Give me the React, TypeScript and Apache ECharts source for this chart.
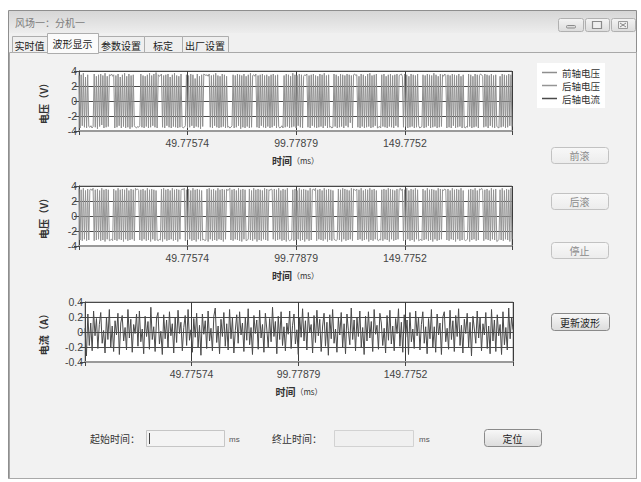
import React, { useEffect, useRef } from "react";
import * as echarts from "echarts";

// ---------- data ----------
const X_TICK_LABELS = [49.77574, 99.77879, 149.7752];
const T_END_VOLT = 199;
const T_END_CURR = 200;

const frontVoltage = [
  3.4, -3.6, 3.5, -3.3, 3.7, -3.5, 3.2, -3.6, 3.5, -3.4, -3.5, -3.3, -3.6, -3.4, 3.6, -3.5, 3.3, -3.7, 3.5, -3.4,
  3.6, -3.2, 3.4, -3.6, 3.7, -3.5, 3.3, -3.4, 3.5, 3.4, 3.6, 3.3, 3.5, -3.6, 3.4, -3.5, 3.6, -3.3, 3.2, -3.6,
  3.5, -3.4, 3.7, -3.6, 3.3, -3.5, 3.6, -3.7, 3.4, -3.5, 3.5, -3.3, -3.5, -3.6, -3.4, -3.5, -3.3, 3.6, -3.5, 3.4,
  -3.6, 3.3, -3.4, 3.5, -3.6, 3.7, -3.5, 3.4, -3.3, 3.6, -3.5, 3.8, -3.6, 3.5, 3.3, 3.4, 3.6, -3.5, 3.4, -3.6,
  3.5, -3.3, 3.6, -3.5, 3.2, -3.6, 3.5, -3.4, 3.7, -3.5, 3.4, -3.6, 3.3, -3.5, 3.6, -3.4, -3.6, -3.5, -3.3, 3.5,
  -3.6, 3.4, -3.5, 3.6, -3.3, 3.5, -3.6, 3.0, -3.4, 3.6, -3.5, 3.3, -3.7, 3.5, -3.4, 3.6, 3.5, 3.4, 3.5, 3.3,
  3.6, -3.5, 3.4, -3.6, 3.5, -3.3, 3.7, -3.5, 3.4, -3.6, 3.3, -3.5, 3.6, -3.4, 3.5, -3.6, 3.3, -3.5, -3.4, -3.6,
  -3.5, -3.3, 3.5, -3.6, 3.4, -3.5, 3.6, -3.3, 3.5, -3.7, 3.4, -3.5, 3.6, -3.6, 3.3, -3.4, 3.5, -3.6, 3.7, -3.5,
  3.4, 3.5, 3.3, 3.6, -3.5, 3.4, -3.6, 3.5, -3.3, 3.6, -3.5, 3.4, -3.6, 3.5, -3.4, 3.3, -3.6, 3.5, -3.5, 3.6,
  -3.3, 3.4, -3.6, 3.5, -3.4, -3.6, -3.5, -3.3, -3.6, 3.4, -3.5, 3.6, -3.4, 3.5, -3.6, 3.3, -3.5, 3.7, -3.4, 3.5,
  -3.6, 3.4, -3.3, 3.6, -3.5, 3.5, -3.6, 3.3, 3.5, 3.4, 3.6, -3.5, 3.4, -3.6, 3.5, -3.3, 3.6, -3.5, 3.4, -3.6,
  3.3, -3.5, 3.6, -3.4, 3.5, -3.6, 3.7, -3.3, 3.4, -3.6, 3.5, -3.5, -3.4, -3.6, -3.5, 3.6, -3.4, 3.5, -3.6, 3.3,
  -3.5, 3.6, -3.4, 3.5, -3.6, 3.4, -3.3, 3.6, -3.5, 3.5, -2.9, 3.4, -3.6, 3.5, 3.6, 3.4, 3.5, -3.5, 3.3, -3.6,
  3.6, -3.4, 3.5, -3.6, 3.3, -3.5, 3.6, -3.4, 3.7, -3.6, 3.4, -3.5, 3.5, -3.3, 3.6, -3.6, -3.5, -3.4, -3.6, 3.5,
  -3.4, 3.6, -3.5, 3.3, -3.6, 3.5, -3.4, 3.6, -3.5, 3.4, -3.6, 3.5, -3.3, 3.6, -3.5, 3.4, 3.5, 3.6, 3.3, -3.5,
  3.6, -3.4, 3.5, -3.6, 3.3, -3.5, 3.6, -3.4, 3.5, -3.6, 3.4, -3.5, 3.6, -3.3, -3.6, -3.5, -3.4, 3.5, -3.6, 3.4,
  -3.5, 3.6, -3.3, 3.5, -3.6, 3.4, -3.5, 3.7, -3.4, 3.5, -3.6, 3.3, -3.5, 3.6, -3.4, 3.5, 3.3, 3.6, 3.4, -3.6,
  3.5, -3.5, 3.4, -3.6, 3.6, -3.3, 3.5, -3.6, 3.4, -3.5, 3.6, -3.4, 3.3, -3.6, 3.5, -3.5, -3.6, -3.4, -3.5, 3.6,
  -3.4, 3.5, -3.6, 3.3, -3.5, 3.6, -3.4, 3.5, -3.6, 3.4, 3.6, 3.5, 3.3, -3.5, 3.6, -3.4, 3.5, -3.6, 3.4, -3.3,
  3.6, -3.5, 3.4, -3.6, 3.5, -3.4, -3.5, -3.6, 3.3, -3.5, 3.6, -3.4, 3.5, -3.6, 3.4, -3.5, 3.6, -3.3, 3.5, -3.4,
];

const rearVoltage = [
  3.6, -3.2, 3.5, -3.3, 3.7, -3.1, 3.4, -3.3, 3.6, -3.2, 3.5, 3.6, 3.4, 3.7, -3.3, 3.5, -3.2, 3.6, -3.1, 3.4,
  -3.3, 3.7, -3.2, 3.5, -3.4, 3.6, -3.1, 3.5, -3.3, -3.2, -3.1, -3.3, 3.6, -3.2, 3.4, -3.3, 3.7, -3.1, 3.5, -3.2,
  3.6, -3.4, 3.5, -3.1, 3.7, -3.3, 3.4, -3.2, 3.6, -3.1, 3.5, -3.3, 3.7, 3.5, 3.6, 3.4, -3.2, 3.5, -3.3, 3.6,
  -3.1, 3.4, -3.3, 3.7, -3.2, 3.5, -3.4, 3.6, -3.1, 3.5, -3.3, 3.4, -3.2, -3.3, -3.1, -3.2, 3.6, -3.4, 3.7, -3.1,
  3.5, -3.3, 3.6, -3.2, 3.4, -3.1, 3.7, -3.3, 3.5, -3.2, 3.6, -3.4, 3.5, -3.1, 3.4, 3.6, 3.5, 3.7, -3.3, 3.5,
  -3.2, 3.6, -3.1, 3.4, -3.3, 3.7, -3.2, 3.5, -3.4, 3.6, -3.1, 3.5, -3.3, 3.4, -3.2, -3.1, -3.3, -3.2, 3.6, -3.4,
  3.7, -3.1, 3.5, -3.3, 3.6, -3.2, 3.4, -3.3, 3.7, -3.1, 3.5, -3.2, 3.6, -3.4, 3.5, -3.1, 3.6, 3.4, 3.5, 3.7,
  -3.2, 3.5, -3.3, 3.6, -3.1, 3.4, -3.2, 3.7, -3.3, 3.5, -3.4, 3.6, -3.1, 3.5, -3.3, -3.2, -3.1, 3.6, -3.2, 3.4,
  -3.3, 3.7, -3.1, 3.5, -3.4, 3.6, -3.2, 3.5, -3.3, 3.4, -3.1, 3.7, -3.2, 3.6, -3.3, 3.5, 3.4, 3.6, 3.5, -3.1,
  3.6, -3.3, 3.5, -3.2, 3.7, -3.1, 3.4, -3.3, 3.6, -3.2, 3.5, -3.4, 3.7, -3.1, -3.3, -3.2, -3.1, 3.5, -3.3, 3.6,
  -3.2, 3.4, -3.1, 3.7, -3.3, 3.5, -3.2, 3.6, -3.4, 3.5, -3.1, 3.4, -3.3, 3.7, -3.2, 3.5, 3.6, 3.4, 3.7, -3.3,
  3.5, -3.1, 3.6, -3.2, 3.4, -3.3, 3.7, -3.1, 3.5, -3.4, 3.6, -3.2, 3.5, -3.3, 3.4, -3.1, -3.2, -3.3, -3.1, 3.6,
  -3.2, 3.5, -3.4, 3.7, -3.1, 3.6, -3.3, 3.5, -3.2, 3.4, -3.1, 3.7, -3.3, 3.6, 3.5, 3.4, 3.6, -3.2, 3.5, -3.1,
  3.7, -3.3, 3.4, -3.2, 3.6, -3.1, 3.5, -3.4, 3.7, -3.2, 3.5, -3.3, 3.6, -3.1, 3.4, -3.2, -3.3, -3.1, -3.2, 3.5,
  -3.3, 3.6, -3.1, 3.5, -3.2, 3.7, -3.4, 3.6, -3.1, 3.5, -3.3, 3.4, -3.2, 3.6, -3.1, 3.5, 3.7, 3.4, 3.6, -3.3,
  3.5, -3.2, 3.7, -3.1, 3.4, -3.3, 3.6, -3.2, 3.5, -3.4, 3.7, -3.1, 3.5, -3.3, -3.2, -3.1, -3.3, 3.6, -3.2, 3.4,
  -3.1, 3.7, -3.3, 3.5, -3.2, 3.6, -3.4, 3.5, -3.1, 3.4, -3.3, 3.7, -3.2, 3.6, -3.1, 3.5, 3.4, 3.6, 3.5, -3.2,
  3.6, -3.3, 3.4, -3.1, 3.7, -3.2, 3.5, -3.4, 3.6, -3.1, 3.5, -3.3, 3.7, -3.2, 3.4, -3.1, -3.3, -3.2, -3.1, 3.5,
  -3.4, 3.6, -3.2, 3.5, -3.1, 3.7, -3.3, 3.4, -3.2, 3.6, 3.5, 3.7, 3.4, -3.3, 3.5, -3.1, 3.6, -3.2, 3.4, -3.3,
  3.7, -3.1, 3.5, -3.2, 3.6, -3.4, -3.3, -3.1, 3.5, -3.2, 3.7, -3.3, 3.4, -3.1, 3.6, -3.2, 3.5, -3.4, 3.7, -3.1,
];

const rearCurrent = [
  0.05, -0.32, 0.24, -0.18, 0.12, -0.25, 0.28, -0.05, 0.18, -0.22, 0.1, 0.26, -0.15, 0.02, -0.28, 0.2, -0.1, 0.3, -0.2, 0.08,
  -0.26, 0.15, -0.04, 0.25, -0.3, 0.12, 0.22, -0.12, 0.06, -0.24, 0.3, -0.08, 0.17, -0.27, 0.1, -0.02, 0.24, -0.19, 0.28, -0.13,
  0.04, -0.29, 0.21, -0.06, 0.14, -0.23, 0.33, -0.1, 0.07, -0.26, 0.19, 0.26, -0.16, 0.01, -0.3, 0.23, -0.09, 0.16, -0.21, 0.27,
  -0.05, 0.11, -0.28, 0.2, -0.14, 0.29, -0.02, 0.13, -0.25, 0.06, 0.22, -0.18, 0.3, -0.11, 0.03, -0.27, 0.18, -0.07, 0.25, -0.2,
  0.09, -0.31, 0.24, -0.03, 0.15, -0.22, 0.28, -0.12, 0.05, -0.25, 0.21, 0.32, -0.14, 0.08, -0.29, 0.17, -0.06, 0.26, -0.19, 0.11,
  -0.24, 0.3, -0.09, 0.19, -0.28, 0.02, 0.23, -0.15, 0.27, -0.04, 0.12, -0.26, 0.2, -0.11, 0.31, -0.17, 0.06, -0.3, 0.22, -0.02,
  0.16, -0.23, 0.29, -0.08, 0.1, -0.27, 0.25, 0.04, -0.2, 0.18, -0.13, 0.33, -0.06, 0.14, -0.29, 0.21, -0.1, 0.27, -0.18, 0.07,
  -0.25, 0.12, -0.03, 0.28, -0.22, 0.09, 0.24, -0.16, 0.03, -0.3, 0.2, -0.07, 0.31, -0.12, 0.15, -0.24, 0.26, -0.01, 0.1, -0.28,
  0.22, -0.14, 0.29, -0.05, 0.17, -0.26, 0.08, 0.25, -0.19, 0.13, -0.31, 0.23, -0.09, 0.3, -0.15, 0.04, -0.27, 0.19, -0.04, 0.26,
  -0.21, 0.11, -0.29, 0.24, 0.02, -0.17, 0.32, -0.1, 0.16, -0.25, 0.2, -0.06, 0.28, -0.2, 0.06, -0.3, 0.21, -0.12, 0.27, -0.08,
  0.14, -0.26, 0.3, -0.03, 0.09, -0.23, 0.25, 0.12, -0.18, 0.05, -0.28, 0.22, -0.11, 0.29, -0.16, 0.08, -0.25, 0.18, -0.02, 0.31,
  -0.19, 0.13, -0.27, 0.23, -0.07, 0.16, -0.3, 0.26, -0.13, 0.04, -0.22, 0.28, -0.05, 0.2, -0.24, 0.1, 0.27, -0.15, 0.07, -0.29,
  0.18, -0.09, 0.3, -0.21, 0.07, -0.27, 0.24, -0.04, 0.12, -0.3, 0.2, 0.27, -0.13, 0.05, -0.23, 0.29, -0.1, 0.15, -0.26, 0.22,
  -0.06, 0.31, -0.18, 0.09, -0.28, 0.17, -0.02, 0.25, -0.2, 0.13, -0.32, 0.21, 0.04, -0.15, 0.28, -0.08, 0.19, -0.25, 0.11, -0.04,
  0.26, -0.22, 0.08, -0.29, 0.3, -0.12, 0.16, -0.26, 0.23, -0.05, 0.1, -0.3, 0.27, -0.17, 0.06, -0.24, 0.32, -0.09, 0.2, 0.03,
];

const SERIES_NAMES = ["前轴电压", "后轴电压", "后轴电流"];

// ---------- helpers ----------
const CJK = "'Noto Sans CJK SC', 'Noto Sans', sans-serif";
const NUM = "'Liberation Sans', Arial, sans-serif";

function toPairs(values: number[], tEnd: number) {
  const step = tEnd / (values.length - 1);
  return values.map((v, i) => [i * step, v]);
}

function text(x: number, y: number, s: string, opts: any = {}) {
  return {
    type: "text",
    x,
    y,
    z: 5,
    silent: true,
    style: {
      text: s,
      fill: opts.fill || "#333",
      fontSize: opts.fontSize || 10,
      fontFamily: opts.fontFamily || CJK,
      fontWeight: opts.fontWeight || "normal",
      align: opts.align || "left",
      verticalAlign: "middle",
    },
  };
}

function button(x: number, y: number, w: number, h: number, label: string, strong: boolean) {
  return [
    {
      type: "rect",
      z: 2,
      silent: true,
      shape: { x: x + 0.5, y: y + 0.5, width: w, height: h, r: 3 },
      style: {
        fill: {
          type: "linear", x: 0, y: 0, x2: 0, y2: 1,
          colorStops: [
            { offset: 0, color: "#f8f8f8" },
            { offset: 1, color: strong ? "#dcdcdc" : "#ececec" },
          ],
        },
        stroke: strong ? "#8a8a8a" : "#c2c2c2",
        lineWidth: 1,
      },
    },
    text(x + w / 2, y + h / 2 + 0.5, label, {
      align: "center",
      fill: strong ? "#222" : "#8a8a8a",
      fontSize: 10,
    }),
  ];
}

function tab(x: number, w: number, label: string, selected: boolean) {
  const y = selected ? 33 : 36;
  return [
    {
      type: "rect",
      z: selected ? -6 : -7,
      silent: true,
      shape: { x: x + 0.5, y: y + 0.5, width: w, height: 52 - y + (selected ? 1 : 0) },
      style: { fill: selected ? "#fbfbfb" : "#efefef", stroke: "#adadad", lineWidth: 1 },
    },
    text(x + w / 2, selected ? 43 : 45, label, { align: "center", fill: "#222", fontSize: 10 }),
  ];
}

function xAxisCfg(gridIndex: number, max: number) {
  return {
    type: "value",
    gridIndex,
    min: 0,
    max,
    name: "{a|时间}{b|（ms）}",
    nameLocation: "middle",
    nameGap: 24,
    nameTextStyle: {
      rich: {
        a: { fontFamily: CJK, fontSize: 10, fontWeight: "bold", color: "#333" },
        b: { fontFamily: CJK, fontSize: 8, color: "#333" },
      },
    },
    axisLine: { show: true, onZero: false, lineStyle: { color: "#9a9a9a", width: 2 } },
    axisTick: {
      show: true,
      length: 4,
      customValues: [0, ...X_TICK_LABELS, max],
      lineStyle: { color: "#444" },
    },
    axisLabel: {
      customValues: X_TICK_LABELS,
      formatter: (v: number) => String(v),
      color: "#444",
      fontSize: 10.5,
      fontFamily: NUM,
      margin: 6,
    },
    splitLine: { show: true, lineStyle: { color: "#3c3c3c", width: 1 } },
  };
}

function yAxisCfg(gridIndex: number, lim: number, step: number, name: string, gap: number) {
  return {
    type: "value",
    gridIndex,
    min: -lim,
    max: lim,
    interval: step,
    name,
    nameLocation: "middle",
    nameRotate: 90,
    nameGap: gap,
    nameTextStyle: { fontFamily: CJK, fontSize: 10, fontWeight: "bold", color: "#333" },
    axisLine: { show: true, onZero: false, lineStyle: { color: "#444", width: 1 } },
    axisTick: { show: true, length: 5, lineStyle: { color: "#444" } },
    axisLabel: {
      color: "#444",
      fontSize: 10.5,
      fontFamily: NUM,
      margin: 2,
      formatter: (v: number) => String(Math.round(v * 10) / 10),
    },
    splitLine: { show: true, lineStyle: { color: "#4a4a4a", width: 1 } },
  };
}

export default function App() {
  const ref = useRef<HTMLDivElement>(null);

  useEffect(() => {
    if (!ref.current) return;
    const chart = echarts.init(ref.current, undefined, { renderer: "svg" });

    const graphics: any[] = [
      // window frame
      {
        type: "rect", z: -10, silent: true,
        shape: { x: 8.5, y: 10.5, width: 628, height: 468 },
        style: { fill: "#f0f0f0", stroke: "#8e8e8e", lineWidth: 1 },
      },
      {
        type: "rect", z: -9, silent: true,
        shape: { x: 9, y: 11, width: 627, height: 22 },
        style: {
          fill: {
            type: "linear", x: 0, y: 0, x2: 0, y2: 1,
            colorStops: [
              { offset: 0, color: "#d6d6d6" },
              { offset: 1, color: "#ededed" },
            ],
          },
        },
      },
      text(15, 22, "风场一：分机一", { fill: "#7c7c7c", fontSize: 10 }),
      // window buttons
      ...[
        [558, 25],
        [585, 24],
        [611, 24],
      ].map(([bx, bw]) => ({
        type: "rect", z: 2, silent: true,
        shape: { x: bx + 0.5, y: 18.5, width: bw, height: 13, r: 2 },
        style: {
          fill: {
            type: "linear", x: 0, y: 0, x2: 0, y2: 1,
            colorStops: [
              { offset: 0, color: "#f4f4f4" },
              { offset: 1, color: "#dcdcdc" },
            ],
          },
          stroke: "#b0b0b0",
        },
      })),
      {
        type: "rect", z: 3, silent: true,
        shape: { x: 566.5, y: 25.5, width: 9, height: 2.5, r: 1 },
        style: { fill: "#ddd", stroke: "#8a8a8a" },
      },
      {
        type: "rect", z: 3, silent: true,
        shape: { x: 592.5, y: 21.5, width: 9, height: 7 },
        style: { fill: "#eee", stroke: "#8a8a8a", lineWidth: 1.2 },
      },
      {
        type: "rect", z: 3, silent: true,
        shape: { x: 618.5, y: 21.5, width: 9, height: 7 },
        style: { fill: "#eee", stroke: "#9a9a9a" },
      },
      {
        type: "polyline", z: 4, silent: true,
        shape: { points: [[620, 23], [626, 27]] },
        style: { stroke: "#888", lineWidth: 1 },
      },
      {
        type: "polyline", z: 4, silent: true,
        shape: { points: [[626, 23], [620, 27]] },
        style: { stroke: "#888", lineWidth: 1 },
      },
      // tab page panel
      {
        type: "rect", z: -8, silent: true,
        shape: { x: 9.5, y: 52.5, width: 627, height: 426 },
        style: { fill: "#f2f2f2", stroke: "#a9a9a9", lineWidth: 1 },
      },
      ...tab(12, 35, "实时值", false),
      ...tab(98, 46, "参数设置", false),
      ...tab(144, 38, "标定", false),
      ...tab(182, 46, "出厂设置", false),
      ...tab(47, 51, "波形显示", true),
      // right side buttons
      ...button(551, 147, 57, 16, "前滚", false),
      ...button(551, 193, 57, 16, "后滚", false),
      ...button(551, 242, 57, 16, "停止", false),
      ...button(551, 313, 58, 17, "更新波形", true),
      // bottom controls
      text(90, 438, "起始时间：", { fontSize: 10, fill: "#333" }),
      {
        type: "rect", z: 2, silent: true,
        shape: { x: 146.5, y: 430.5, width: 78, height: 16 },
        style: { fill: "#f4f4f4", stroke: "#c6c6c6" },
      },
      {
        type: "polyline", z: 3, silent: true,
        shape: { points: [[149.5, 433], [149.5, 444]] },
        style: { stroke: "#444", lineWidth: 1 },
      },
      text(229, 439, "ms", { fontSize: 8, fill: "#555", fontFamily: NUM }),
      text(272, 438, "终止时间：", { fontSize: 10, fill: "#333" }),
      {
        type: "rect", z: 2, silent: true,
        shape: { x: 334.5, y: 430.5, width: 79, height: 16 },
        style: { fill: "#f0f0f0", stroke: "#d2d2d2" },
      },
      text(419, 439, "ms", { fontSize: 8, fill: "#555", fontFamily: NUM }),
      ...button(484, 429, 57, 17, "定位", true),
    ];

    const option: any = {
      animation: false,
      backgroundColor: "transparent",
      textStyle: { fontFamily: CJK },
      graphic: { elements: graphics },
      legend: {
        data: SERIES_NAMES,
        orient: "vertical",
        left: 537,
        top: 63,
        z: 10,
        backgroundColor: "#ffffff",
        padding: [3, 5, 3, 5],
        itemGap: 0,
        itemWidth: 15,
        itemHeight: 1.5,
        icon: "rect",
        selectedMode: false,
        textStyle: { fontFamily: CJK, fontSize: 9.5, color: "#333", lineHeight: 13 },
      },
      grid: [
        { left: 79, top: 71, width: 433, height: 60, show: true, backgroundColor: "#fff", borderColor: "#9a9a9a", borderWidth: 1 },
        { left: 79, top: 186, width: 433, height: 60, show: true, backgroundColor: "#fff", borderColor: "#9a9a9a", borderWidth: 1 },
        { left: 85, top: 302, width: 428, height: 60, show: true, backgroundColor: "#fff", borderColor: "#9a9a9a", borderWidth: 1 },
      ],
      xAxis: [xAxisCfg(0, T_END_VOLT), xAxisCfg(1, T_END_VOLT), xAxisCfg(2, T_END_CURR)],
      yAxis: [
        yAxisCfg(0, 4, 2, "电压（V）", 31),
        yAxisCfg(1, 4, 2, "电压（V）", 31),
        yAxisCfg(2, 0.4, 0.2, "电流（A）", 37),
      ],
      series: [
        {
          name: SERIES_NAMES[0],
          type: "line",
          xAxisIndex: 0,
          yAxisIndex: 0,
          data: toPairs(frontVoltage, T_END_VOLT),
          showSymbol: false,
          silent: true,
          color: "#8e8e8e",
          lineStyle: { color: "#8e8e8e", width: 1 },
        },
        {
          name: SERIES_NAMES[1],
          type: "line",
          xAxisIndex: 1,
          yAxisIndex: 1,
          data: toPairs(rearVoltage, T_END_VOLT),
          showSymbol: false,
          silent: true,
          color: "#959595",
          lineStyle: { color: "#959595", width: 1 },
        },
        {
          name: SERIES_NAMES[2],
          type: "line",
          xAxisIndex: 2,
          yAxisIndex: 2,
          data: toPairs(rearCurrent, T_END_CURR),
          showSymbol: false,
          silent: true,
          color: "#4a4a4a",
          lineStyle: { color: "#4a4a4a", width: 1 },
        },
      ],
    };

    chart.setOption(option);
    return () => chart.dispose();
  }, []);

  return (
    <div
      ref={ref}
      style={{ position: "fixed", left: 0, top: 0, width: 641, height: 482, background: "#ffffff" }}
    />
  );
}
